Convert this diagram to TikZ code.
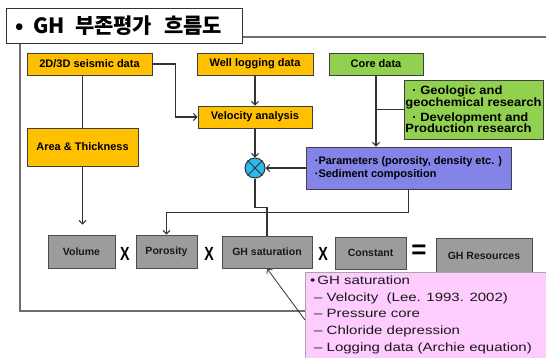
\documentclass[tikz,border=0pt]{standalone}
\usepackage{fontspec}
\setmainfont{Liberation Sans}
\newfontfamily\kr{Noto Sans CJK KR}
\newfontfamily\widefont{Liberation Sans}[FakeStretch=1.25]
\newfontfamily\midfont{Liberation Sans}[FakeStretch=1.08]
\newfontfamily\narrowfont{Liberation Sans}[FakeStretch=0.75]
\usetikzlibrary{arrows.meta,calc}
\definecolor{orangebox}{HTML}{FFC000}
\definecolor{greenbox}{HTML}{92D050}
\definecolor{purplebox}{HTML}{8484E8}
\definecolor{graybox}{HTML}{9C9C9C}
\definecolor{pinkbox}{HTML}{FFCCFF}
\definecolor{cyanfill}{HTML}{2DB8EE}
\definecolor{linecol}{HTML}{333333}
\definecolor{framecol}{HTML}{6E6E6E}
\tikzset{
  box/.style={draw=black!75, line width=0.9pt, inner sep=0pt, text=black,
    font=\fontsize{11}{13}\selectfont\bfseries},
  obox/.style={box, fill=orangebox},
  gbox/.style={box, fill=greenbox},
  pbox/.style={box, fill=purplebox},
  gybox/.style={box, fill=graybox, draw=black!70, text=black!90,
    font=\fontsize{10.5}{12}\selectfont\bfseries},
  conn/.style={draw=linecol, line width=1.2pt},
  arr/.style={conn, -{Straight Barb[length=3.5pt,width=7pt,line width=1pt]}},
  thinarr/.style={draw=linecol, line width=0.8pt, -{Straight Barb[length=4pt,width=7pt,line width=0.8pt]}},
  xsym/.style={inner sep=0pt, font=\narrowfont\bfseries\fontsize{19}{19}\selectfont},
  ptext/.style={anchor=base west, inner sep=0pt, text=black!90,
    font=\widefont\fontsize{12}{14}\selectfont},
}
\begin{document}
\begin{tikzpicture}[x=1pt,y=-1pt]
\useasboundingbox (0,0) rectangle (546,357);
\clip (0,0) rectangle (546,357);
\fill[white] (0,0) rectangle (546,357);
% outer frame
\draw[framecol, line width=1.2pt] (20,37) rectangle (600,311);
% title
\node[draw=black!80, fill=white, line width=1pt, minimum width=236pt, minimum height=35pt,
  inner sep=0pt, text width=216pt, align=left, font=\kr\bfseries\fontsize{21}{21}\selectfont] (title) at (124,25.5)
  {•\hspace{9pt}GH\hspace{3pt} 부존평가\hspace{5pt} 흐름도};
% top row
\node[obox, minimum width=125pt, minimum height=22pt] (seis) at (89.5,64) {2D/3D seismic data};
\node[obox, minimum width=116pt, minimum height=22pt] (well) at (255,64) {Well logging data};
\node[gbox, minimum width=94pt, minimum height=22pt] (core) at (376,64) {Core data};
\node[obox, minimum width=114pt, minimum height=22pt] (vel) at (255,117) {Velocity analysis};
\node[gbox, minimum width=139pt, minimum height=59pt, align=left,
  font=\midfont\bfseries\fontsize{12}{11.2}\selectfont] (res) at (473.5,109.5)
  {\hspace*{7pt}·~Geologic and\\geochemical research\\[2.5pt]\hspace*{7pt}·~Development and\\Production research};
\node[obox, minimum width=111pt, minimum height=38pt] (area) at (82.5,147) {Area \& Thickness};
\node[circle, draw=black!80, fill=cyanfill, line width=1pt, minimum size=20pt, inner sep=0pt] (circ) at (255,168) {};
\draw[black!80, line width=1pt] (circ.north west) -- (circ.south east) (circ.north east) -- (circ.south west);
\node[pbox, minimum width=205pt, minimum height=42pt, align=left,
  font=\fontsize{11}{13}\selectfont\bfseries] (param) at (408.5,168)
  {·Parameters (porosity, density etc. )\\·Sediment composition\hfill\null};
% bottom row
\node[gybox, minimum width=67pt, minimum height=33pt] (vol) at (81.5,251.5) {Volume};
\node[gybox, minimum width=61pt, minimum height=33pt] (por) at (166.5,251.5) {Porosity};
\node[gybox, minimum width=90pt, minimum height=32pt] (ghs) at (267,252) {GH saturation};
\node[gybox, minimum width=71pt, minimum height=32pt] (con) at (370.5,253) {Constant};
\node[gybox, minimum width=96pt, minimum height=35pt] (ghr) at (484,255.5) {GH Resources};
\node[xsym] (x1) at (125,253.5) {X};
\node[xsym] (x2) at (209,253.5) {X};
\node[xsym] (x3) at (323,253.5) {X};
\node[inner sep=0pt, font=\bfseries\fontsize{26}{26}\selectfont] (eq) at (419,252) {=};
% pink note
\node[draw=black!35, fill=pinkbox, minimum width=300pt, minimum height=120pt, anchor=north west, inner sep=0pt] (pink) at (305,272) {};
\coordinate (pk) at (305,320);
\node[ptext] (p1) at (310,284.3) {•\,GH saturation};
\node[ptext] (p2) at (314,301.3) {– Velocity~ (Lee. 1993. 2002)};
\node[ptext] (p3) at (314,317.8) {– Pressure core};
\node[ptext] (p4) at (314,334.3) {– Chloride depression};
\node[ptext] (p5) at (314,351.0) {– Logging data (Archie equation)};
% connectors
\draw[arr] (seis.east) -- ($(seis.east)+(23,0)$) |- (vel.west);
\draw[conn] (area.north |- seis.south) -- (area.north);
\draw[arr] (area.south) -- ($(area.south |- vol.north)+(0,-10)$);
\draw[arr] (well.south) -- (vel.north);
\draw[arr] (vel.south) -- (circ.north);
\draw[arr] (core.south) -- (core.south |- param.north);
\draw[conn] (core.south |- res.west) -- (res.west);
\draw[arr] (param.west) -- (circ.east);
\draw[conn] (circ.south) -- ++(0,29) -| (ghs.north);
\draw[arr] (param.south) -- ++(0,23) -| (por.north);
\draw[thinarr] (pk) -- (ghs.south);
\end{tikzpicture}
\end{document}
